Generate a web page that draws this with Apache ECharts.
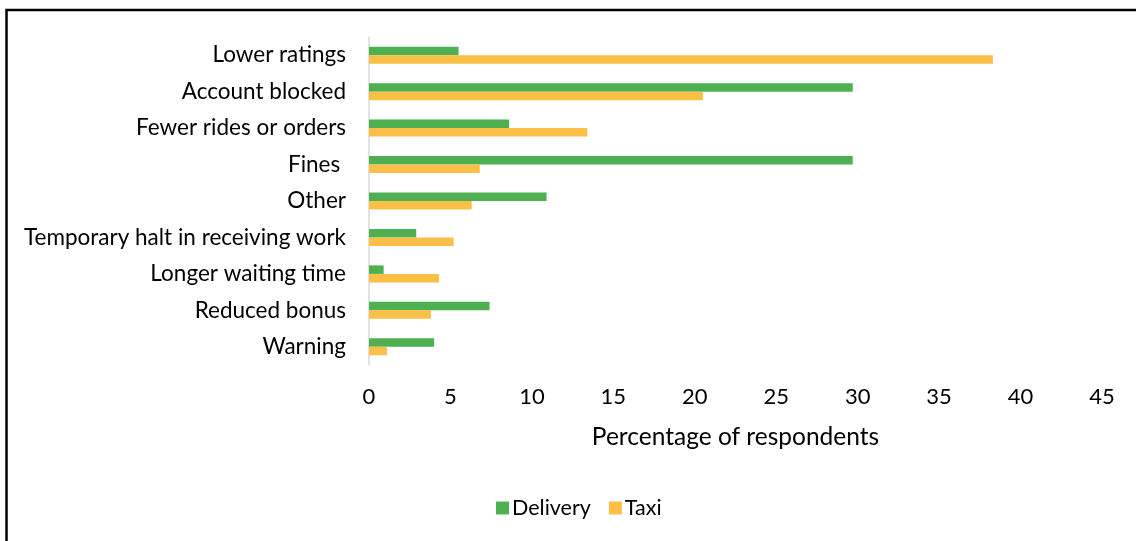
<!DOCTYPE html>
<html>
<head>
<meta charset="utf-8">
<script src="https://cdn.jsdelivr.net/npm/echarts@6/dist/echarts.min.js"></script>
<style>
html,body{margin:0;padding:0;background:#fff;}
#chart{width:1136px;height:541px;}
</style>
</head>
<body>
<div id="chart"></div>
<script>
var categories = ['Lower ratings','Account blocked','Fewer rides or orders','Fines ','Other','Temporary halt in receiving work','Longer waiting time','Reduced bonus','Warning'];
var delivery = [5.5, 29.7, 8.6, 29.7, 10.9, 2.9, 0.9, 7.4, 4.0];
var taxi = [38.3, 20.5, 13.4, 6.8, 6.3, 5.2, 4.3, 3.8, 1.1];
var xTicks = {min: 0, max: 45, interval: 5};

var chart = echarts.init(document.getElementById('chart'));
var font = 'Lato, "Open Sans", sans-serif';
chart.setOption({
  animation: false,
  textStyle: {fontFamily: font},
  graphic: [{
    type: 'rect',
    shape: {x: 6.5, y: 10, width: 1200, height: 600},
    style: {fill: 'none', stroke: '#000', lineWidth: 2.5},
    silent: true
  }],
  grid: {left: 369, right: 34, top: 37, bottom: 176},
  legend: {
    data: ['Delivery','Taxi'],
    left: 491, top: 492,
    itemWidth: 13, itemHeight: 13, itemGap: 18,
    icon: 'rect',
    textStyle: {fontSize: 21.5, color: '#000', fontFamily: font, padding: [0,0,0,-2]}
  },
  xAxis: {
    type: 'value',
    min: xTicks.min, max: xTicks.max, interval: xTicks.interval,
    splitLine: {show: false},
    axisLine: {show: false},
    axisTick: {show: false},
    axisLabel: {fontSize: 22, color: '#000', margin: 21, fontFamily: font},
    name: 'Percentage of respondents',
    nameLocation: 'middle',
    nameGap: 60,
    nameTextStyle: {fontSize: 24.5, color: '#000', fontFamily: font}
  },
  yAxis: {
    type: 'category',
    data: categories,
    inverse: true,
    axisLine: {show: true, lineStyle: {color: '#d9d9d9', width: 1.5}},
    axisTick: {show: false},
    axisLabel: {fontSize: 22.5, color: '#000', margin: 23, fontFamily: font}
  },
  series: [
    {name: 'Delivery', type: 'bar', data: delivery, barWidth: 8.5, barGap: '0%',
     itemStyle: {color: '#4FB052'}},
    {name: 'Taxi', type: 'bar', data: taxi, barWidth: 8.5, barGap: '0%',
     itemStyle: {color: '#F9BF46'}}
  ]
});
</script>
</body>
</html>
